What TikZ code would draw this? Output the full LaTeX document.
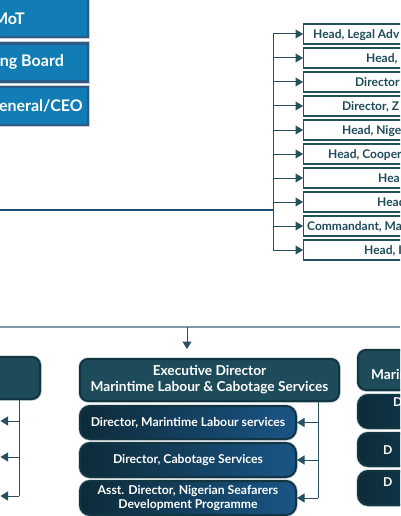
\documentclass[tikz,border=0pt]{standalone}
\usepackage{fontspec}
\setmainfont{Lato}
\usetikzlibrary{arrows.meta}
\definecolor{topfill}{HTML}{127DB5}
\definecolor{topedge}{HTML}{2B5A86}
\definecolor{halo}{HTML}{C9D3D9}
\definecolor{tealline}{HTML}{24505F}
\definecolor{tealtext}{HTML}{1F4A5A}
\definecolor{hlineA}{HTML}{1C4F73}
\definecolor{hlineB}{HTML}{7E9AAB}
\definecolor{execfill}{HTML}{1E4B5A}
\definecolor{execedge}{HTML}{123542}
\definecolor{subL}{HTML}{0D2B39}
\definecolor{subR}{HTML}{1A5585}
\tikzset{
 topbox/.style={rectangle, draw=topedge, line width=2.4pt, fill=topfill, preaction={draw=halo, line width=4.2pt}, minimum width=200pt, minimum height=38pt, inner sep=0pt, anchor=east},
 toptext/.style={text=white, font=\fontsize{16}{19}\selectfont\bfseries, anchor=base east, inner sep=0pt},
 listbox/.style={rectangle, draw=tealline, line width=1.2pt, fill=white, minimum width=200pt, minimum height=20pt, inner sep=0pt, anchor=west},
 listtext/.style={text=tealtext, font=\fontsize{12}{14}\selectfont\bfseries, anchor=base west, inner sep=0pt},
 link/.style={draw=tealline, line width=1pt},
 arr/.style={link, -{Triangle[length=7.5pt,width=9pt]}},
 execbox/.style={rectangle, rounded corners=8pt, draw=execedge, line width=2pt, fill=execfill, preaction={draw=halo, line width=3.5pt}, inner sep=0pt, text=white, font=\fontsize{13.7}{16}\selectfont\bfseries, align=center},
 subbox/.style={rectangle, rounded corners=10pt, draw=execedge, line width=2pt, left color=subL, right color=subR, preaction={draw=halo, line width=3.5pt}, inner sep=0pt, text=white, font=\fontsize{12.2}{13.5}\selectfont\bfseries, align=center},
 whitetext/.style={text=white, anchor=base west, inner sep=0pt},
}
\begin{document}
\begin{tikzpicture}[x=1pt,y=-1pt]
\useasboundingbox (0,0) rectangle (400,516);
\clip (0,0) rectangle (400,516);
% top blue boxes
\node[topbox] (b1) at (89,18) {};
\node[topbox] (b2) at (89,62.5) {};
\node[topbox] (b3) at (89,106) {};
\node[toptext] (t1) at (25,25) {MoT};
\node[toptext] (t2) at (64,67) {ng Board};
\node[toptext] (t3) at (83,111) {eneral/CEO};
% right list
\coordinate (rvt) at (273,34);
\coordinate (rvb) at (273,250);
\draw[link] (rvt) -- (rvb);
\coordinate (hl) at (0,210);
\draw[draw=hlineA, line width=1.5pt] (hl) -- (hl -| rvt);
\foreach \i/\x/\txt in {1/313/{Head, Legal Adv},2/366/{Head,},3/355/{Director},4/342/{Director, Z},5/342/{Head, Nige},6/328/{Head, Cooper},7/378/{Hea},8/377/{Head},9/307/{Commandant, Ma},10/364/{Head, I}}{
 \node[listbox] (r\i) at (303,10+24*\i) {};
 \node[listtext] (rt\i) at (\x,14.5+24*\i) {\txt};
 \draw[arr] (r\i.west -| rvt) -- (r\i.west);
}
% bottom bus
\coordinate (bl) at (0,327);
\coordinate (br) at (400,327);
\draw[draw=hlineB, line width=1.2pt] (bl) -- (br);
\coordinate (ea) at (187,349);
\draw[arr] (ea |- bl) -- (ea);
% centre column
\node[execbox, minimum width=259pt, minimum height=42pt] (exec) at (209.5,380) {Executive Director\\Marintime Labour \& Cabotage Services};
\node[subbox, minimum width=216pt, minimum height=33pt] (s1) at (188,422.5) {Director, Marintime Labour services};
\node[subbox, minimum width=216pt, minimum height=34pt] (s2) at (188,460) {Director, Cabotage Services};
\node[subbox, minimum width=216pt, minimum height=34pt] (s3) at (188,498) {Asst. Director, Nigerian Seafarers\\Development Programme};
\coordinate (ev) at (318,498);
\draw[link] (exec.south -| ev) -- (ev);
\foreach \i in {1,2,3}{\draw[arr] (s\i.east -| ev) -- (s\i.east);}
% left column
\node[execbox, minimum width=140pt, minimum height=42pt] (lbox) at (-30,378) {};
\coordinate (lv) at (19,496);
\draw[link] (lbox.south -| lv) -- (lv);
\coordinate (la1) at (0.5,421);
\coordinate (la2) at (0.5,457);
\coordinate (la3) at (0.5,496);
\foreach \i in {1,2,3}{\draw[arr] (la\i -| lv) -- (la\i);}
% right column
\node[execbox, minimum width=200pt, minimum height=40pt] (rbox) at (458,370) {};
\node[whitetext, font=\fontsize{13.7}{16}\selectfont\bfseries] (rbt) at (371,379) {Marin};
\node[subbox, minimum width=216pt, minimum height=33pt] (q1) at (466,411.5) {};
\node[subbox, minimum width=216pt, minimum height=33pt] (q2) at (466,449.5) {};
\node[subbox, minimum width=216pt, minimum height=34pt] (q3) at (466,488) {};
\node[whitetext, font=\fontsize{12.2}{13.5}\selectfont\bfseries] (qt1) at (393,406.5) {D};
\node[whitetext, font=\fontsize{12.2}{13.5}\selectfont\bfseries] (qt2) at (383,454) {D};
\node[whitetext, font=\fontsize{12.2}{13.5}\selectfont\bfseries] (qt3) at (383,486) {D};
\end{tikzpicture}
\end{document}
